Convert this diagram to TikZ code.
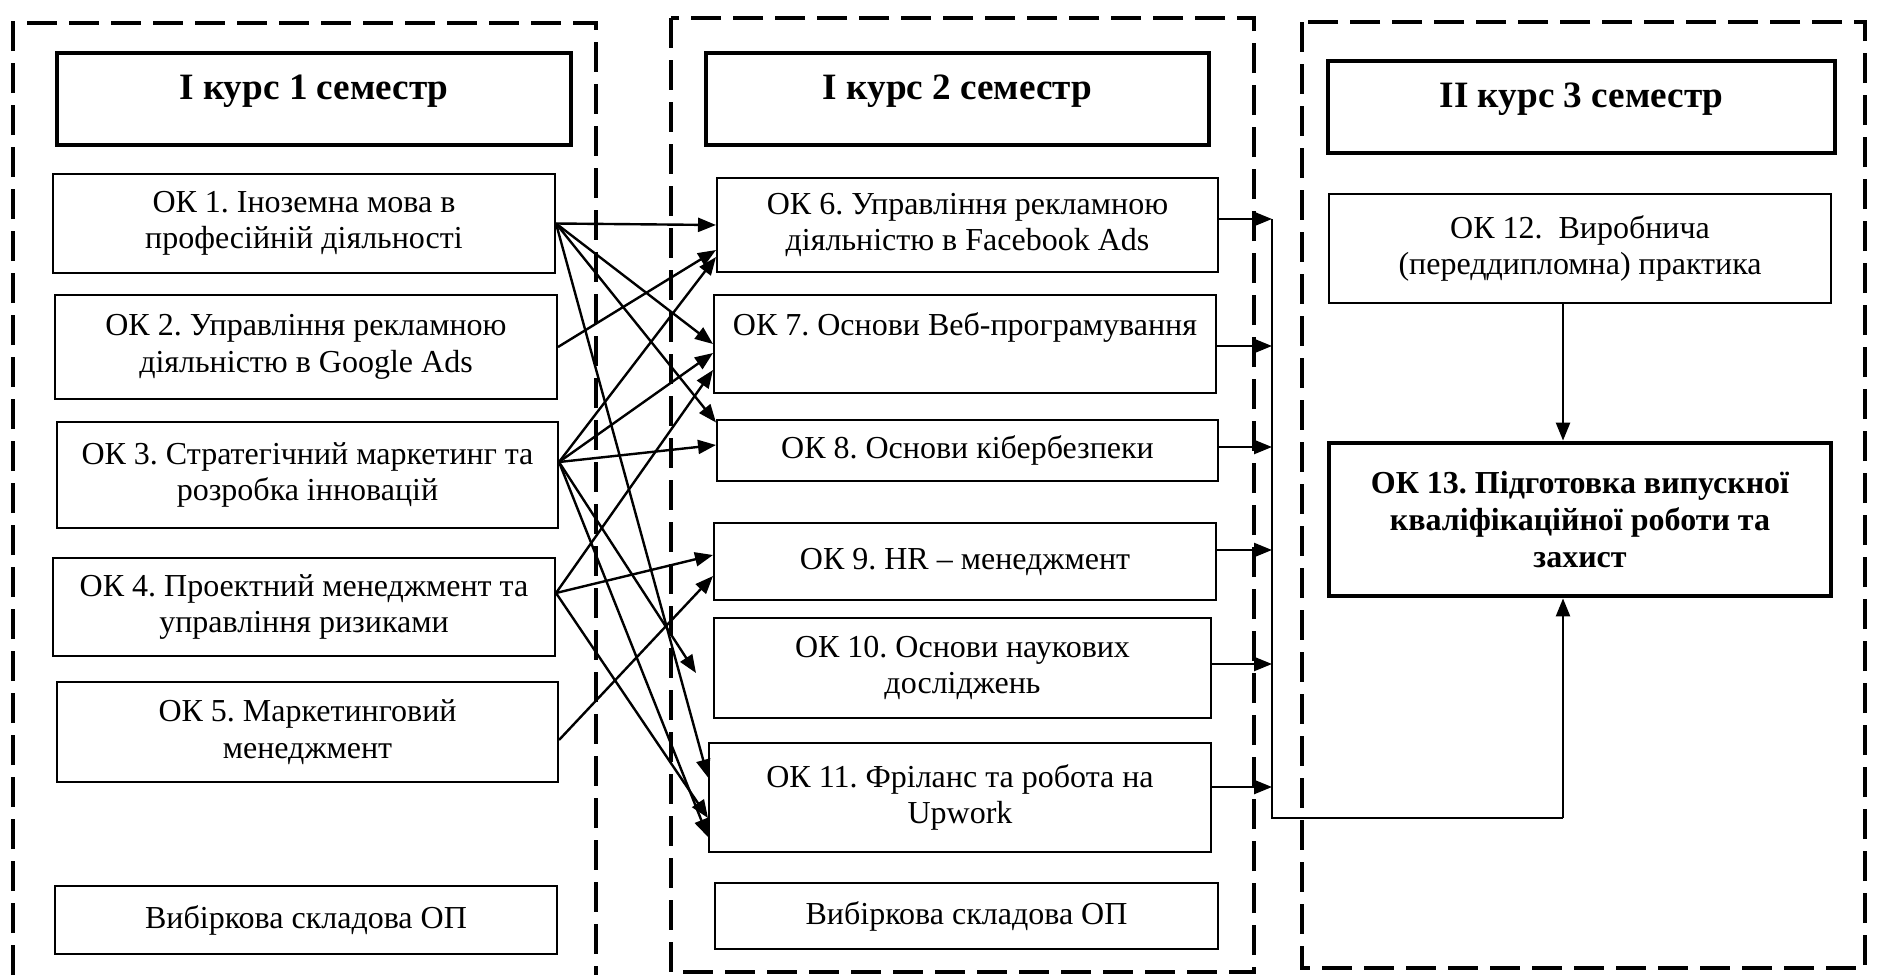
\documentclass[tikz,border=0pt]{standalone}
\usepackage{fontspec}
\setmainfont{Liberation Serif}
\usepackage{tikz}
\usepackage{xcolor}
\usetikzlibrary{arrows.meta,positioning,calc}
\definecolor{ink}{HTML}{000000}
\frenchspacing

\tikzset{
  okbox/.style={draw=ink,line width=1pt,fill=white,
                align=center,inner sep=2pt,
                font=\fontsize{16}{18.2}\selectfont},
  headbox/.style={draw=ink,line width=2.4pt,fill=white,
                  align=center,inner sep=2pt,
                  text height=10pt,text depth=10pt,
                  font=\fontsize{18.6}{22}\selectfont\bfseries},
  semframe/.style={draw=ink,line width=2pt,dash pattern=on 15pt off 6pt},
  flow/.style={draw=ink,line width=1.2pt,-{Triangle[length=9pt,width=7pt]}},
  busline/.style={draw=ink,line width=1.2pt},
}

\begin{document}
\begin{tikzpicture}[x=0.5pt,y=-0.5pt]
\useasboundingbox[fill=white] (0,0) rectangle (1877,975);

% semester frames
\draw[semframe] (13,975) -- (13,23) -- (596,23) -- (596,975);
\draw[semframe] (671,18) rectangle (1254,972);
\draw[semframe] (1302,22) rectangle (1865,968);

% headers
\node[headbox,minimum width=257pt,minimum height=46pt] (sem1) at (314,99)
  {І курс 1 семестр};
\node[headbox,minimum width=251.5pt,minimum height=46pt] (sem2) at (957.5,99)
  {І курс 2 семестр};
\node[headbox,minimum width=253.5pt,minimum height=46pt] (sem3) at (1581.5,107)
  {ІІ курс 3 семестр};

% first semester
\node[okbox,minimum width=251pt,minimum height=49.5pt] (ok1) at (304,223.5)
  {ОК 1. Іноземна мова в\\ професійній діяльності};
\node[okbox,minimum width=251pt,minimum height=52pt] (ok2) at (306,347)
  {ОК 2. Управління рекламною\\ діяльністю в Google Ads};
\node[okbox,minimum width=250.5pt,minimum height=53pt] (ok3) at (307.5,475)
  {ОК 3. Стратегічний маркетинг та\\ розробка інновацій};
\node[okbox,minimum width=251pt,minimum height=49pt] (ok4) at (304,607)
  {ОК 4. Проектний менеджмент та\\ управління ризиками};
\node[okbox,minimum width=250.5pt,minimum height=50pt] (ok5) at (307.5,732)
  {ОК 5. Маркетинговий\\ менеджмент};
\node[okbox,minimum width=251pt,minimum height=34pt] (vyb1) at (306,920)
  {Вибіркова складова ОП};

% second semester
\node[okbox,minimum width=250.5pt,minimum height=47pt] (ok6) at (967.5,225)
  {ОК 6. Управління рекламною\\ діяльністю в Facebook Ads};
\node[okbox,minimum width=251pt,minimum height=49pt,
      text height=10pt,text depth=18.5pt] (ok7) at (965,344)
  {ОК 7. Основи Веб-програмування};
\node[okbox,minimum width=250.5pt,minimum height=30.5pt] (ok8) at (967.5,450.5)
  {ОК 8. Основи кібербезпеки};
\node[okbox,minimum width=251pt,minimum height=38.5pt] (ok9) at (965,561.5)
  {ОК 9. HR – менеджмент};
\node[okbox,minimum width=248.5pt,minimum height=50pt] (ok10) at (962.5,668)
  {ОК 10. Основи наукових\\ досліджень};
\node[okbox,minimum width=251pt,minimum height=54.5pt] (ok11) at (960,797.5)
  {ОК 11. Фріланс та робота на\\ Upwork};
\node[okbox,minimum width=251.5pt,minimum height=33pt] (vyb2) at (966.5,916)
  {Вибіркова складова ОП};

% third semester
\node[okbox,minimum width=251pt,minimum height=54.5pt] (ok12) at (1580,248.5)
  {ОК 12.~~Виробнича\\ (переддипломна) практика};
\node[okbox,line width=2.4pt,minimum width=251pt,minimum height=76.5pt,
      font=\fontsize{16}{18.6}\selectfont\bfseries] (ok13) at (1580,519.5)
  {ОК 13. Підготовка випускної\\ кваліфікаційної роботи та\\ захист};

% links between first and second semester
\foreach \s/\ds/\t/\dt in {1/0/6/0, 1/0/7/0, 1/0/8/14, 1/0/11/10,
                           2/0/6/-12.5,
                           3/6.5/6/-16, 3/6.5/7/-4.5, 3/6.5/8/2.75, 3/6.5/11/-19.75,
                           4/7/7/-13, 4/7/9/3.25, 4/7/11/-10.25,
                           5/-4/9/-7.25}
  \draw[flow] ([yshift=\ds pt]ok\s.east) -- ([yshift=\dt pt]ok\t.west);
\draw[flow] ([yshift=6.5pt]ok3.east) -- ([xshift=-8.5pt,yshift=-2.5pt]ok10.west);

% collecting line to OK 13
\foreach \k/\y in {6/219,7/346,8/447,9/550,10/664,11/787}
  \coordinate (b\k) at (1272,\y);
\coordinate (busend) at (1272,818);
\coordinate (joint) at (1563,818);
\foreach \k in {6,...,11}
  \draw[flow] (ok\k.east |- b\k) -- (b\k);
\draw[busline] (b6) -- (busend) -- (joint);
\draw[flow] (joint) -- (joint |- ok13.south);
\draw[flow] (ok12.south -| joint) -- (ok13.north -| joint);
\end{tikzpicture}
\end{document}
